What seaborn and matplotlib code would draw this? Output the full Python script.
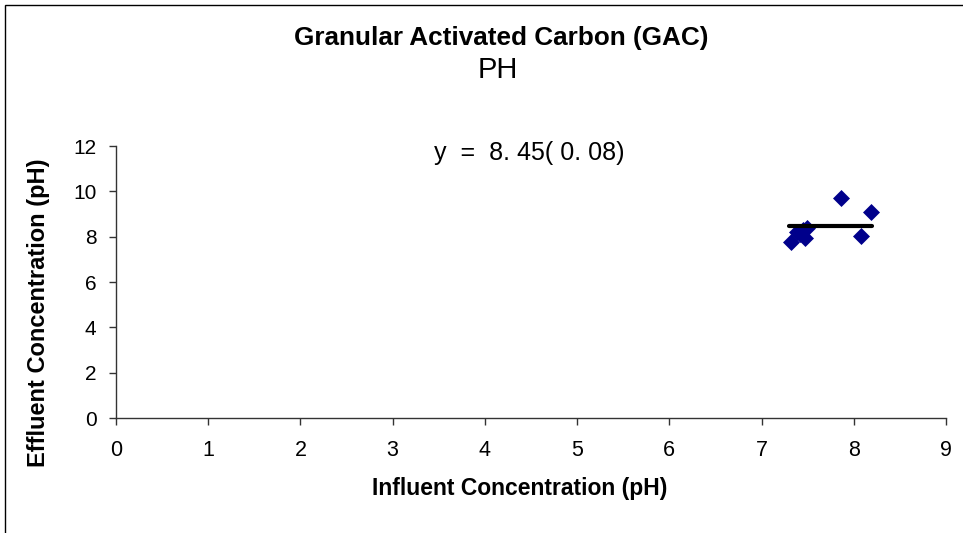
import numpy as np
import pandas as pd
import matplotlib
matplotlib.use("Agg")
import matplotlib.pyplot as plt
import seaborn as sns
from matplotlib.patches import Rectangle

# influent vs effluent pH readings
influent = [7.32, 7.38, 7.42, 7.45, 7.47, 7.49, 7.86, 8.08, 8.19]
effluent = [7.78, 8.22, 8.10, 8.30, 7.93, 8.37, 9.72, 8.04, 9.10]
fit_x = [7.30, 8.20]
fit_y = [8.45, 8.45]
x_ticks = list(range(0, 10))
y_ticks = list(range(0, 14, 2))

df = pd.DataFrame({"influent": influent, "effluent": effluent})

sns.set_style("white")
plt.rcParams["font.family"] = ["Liberation Sans", "DejaVu Sans"]
plt.rcParams["text.color"] = "black"
plt.rcParams["xtick.color"] = "black"
plt.rcParams["ytick.color"] = "black"

fig = plt.figure(figsize=(9.63, 5.33), dpi=100)
ax = fig.add_axes([116/963, 1-418/533, (946-116)/963, (418-146)/533])

sns.scatterplot(data=df, x="influent", y="effluent", marker="D", s=75,
                color="#00008B", edgecolor="#00008B", linewidth=0, ax=ax, zorder=3)
sns.lineplot(x=fit_x, y=fit_y, color="black", linewidth=3, ax=ax, zorder=4)

ax.set_xlim(0, 9)
ax.set_ylim(0, 12)
ax.set_xticks(x_ticks)
ax.set_yticks(y_ticks)
ax.tick_params(axis="both", direction="out", length=5, width=1, color="#333333",
               bottom=True, left=True)
ax.tick_params(axis="x", pad=11, labelsize=15.5)
ax.tick_params(axis="y", pad=9, labelsize=15)
for side in ["top", "right"]:
    ax.spines[side].set_visible(False)
for side in ["left", "bottom"]:
    ax.spines[side].set_color("#333333")
    ax.spines[side].set_linewidth(1)

ax.set_xlabel("")
ax.set_ylabel("")
fig.text(520/963, 1-489/533, "Influent Concentration (pH)", ha="center", va="center",
         fontsize=16.5, fontweight="bold")
fig.text(38/963, 1-313/533, "Effluent Concentration (pH)", ha="center", va="center",
         fontsize=17, fontweight="bold", rotation=90)
fig.text(501/963, 1-38/533, "Granular Activated Carbon (GAC)", ha="center", va="center",
         fontsize=18.8, fontweight="bold")
fig.text(498/963, 1-70/533, "PH", ha="center", va="center", fontsize=21)
fig.text(529/963, 1-153/533, "y  =  8. 45( 0. 08)", ha="center", va="center", fontsize=18)

fig.patches.append(Rectangle((5/963, -0.1), 1.2, 1-5/533+0.1, transform=fig.transFigure,
                             fill=False, edgecolor="black", linewidth=1))

fig.savefig("out.png", dpi=100)
